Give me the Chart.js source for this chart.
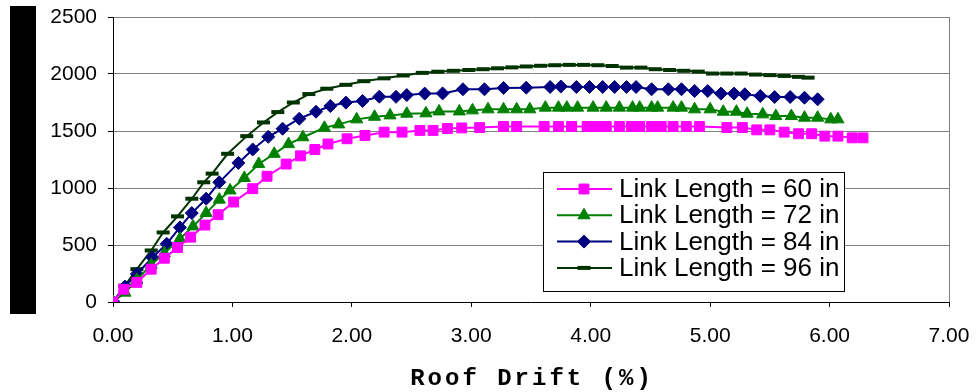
<!DOCTYPE html>
<html>
<head>
<meta charset="utf-8">
<script src="https://cdn.jsdelivr.net/npm/chart.js@4/dist/chart.umd.min.js"></script>
<style>
    html, body { margin:0; padding:0; background:#fff; }
    #wrap { position:relative; width:976px; height:392px; }
    #chart { position:absolute; left:0; top:0; }
    #bar { position:absolute; left:10px; top:6px; width:26px; height:308px; background:#000; }
</style>
</head>
<body>
<div id="wrap">
    <canvas id="chart" width="976" height="392"></canvas>
    <div id="bar"></div>
</div>
<script>
// Roof drift (%) vs load, one pair of arrays per link length
const drift60 = [0,0.09,0.20,0.32,0.43,0.54,0.65,0.77,0.88,1.01,1.17,1.29,1.45,1.57,1.69,1.80,1.96,2.11,2.27,2.42,2.57,2.68,2.80,2.92,3.07,3.27,3.38,3.61,3.73,3.84,3.97,4.05,4.13,4.24,4.34,4.41,4.51,4.59,4.69,4.80,4.91,5.14,5.27,5.39,5.50,5.62,5.74,5.85,5.96,6.07,6.19,6.28]
const load60 = [0,112,172,288,384,478,569,675,766,877,994,1103,1210,1282,1338,1386,1432,1461,1490,1490,1505,1505,1522,1527,1530,1540,1540,1540,1540,1540,1540,1540,1540,1540,1540,1540,1540,1540,1540,1540,1540,1530,1530,1510,1510,1490,1476,1476,1455,1455,1440,1440]

const drift72 = [0,0.10,0.20,0.32,0.43,0.56,0.67,0.78,0.89,0.98,1.10,1.22,1.35,1.47,1.59,1.77,1.89,2.04,2.19,2.32,2.46,2.62,2.73,2.90,3.01,3.14,3.27,3.38,3.49,3.62,3.73,3.80,3.89,4.02,4.13,4.24,4.35,4.41,4.51,4.56,4.69,4.76,4.87,5.00,5.11,5.22,5.31,5.44,5.55,5.68,5.79,5.90,6.01,6.07]
const load72 = [0,82,194,326,428,554,663,780,898,979,1088,1211,1300,1385,1445,1528,1558,1602,1625,1637,1652,1655,1672,1672,1681,1690,1690,1690,1690,1705,1705,1705,1705,1705,1705,1705,1705,1705,1705,1705,1705,1705,1690,1690,1669,1669,1652,1646,1631,1631,1617,1617,1602,1602]

const drift84 = [0,0.10,0.20,0.33,0.45,0.56,0.66,0.78,0.89,1.05,1.17,1.30,1.42,1.56,1.70,1.82,1.95,2.09,2.23,2.37,2.46,2.61,2.76,2.93,3.11,3.27,3.46,3.66,3.75,3.88,3.99,4.10,4.20,4.30,4.38,4.51,4.65,4.76,4.87,4.98,5.09,5.20,5.29,5.42,5.54,5.67,5.79,5.90]
const load84 = [0,135,246,390,510,654,780,906,1050,1220,1338,1449,1520,1608,1669,1719,1749,1763,1801,1800,1815,1828,1830,1866,1866,1878,1880,1886,1890,1886,1886,1886,1886,1886,1886,1866,1866,1866,1851,1851,1828,1828,1822,1807,1798,1798,1792,1778]

const drift96 = [0,0.10,0.20,0.32,0.42,0.54,0.66,0.76,0.83,0.96,1.12,1.26,1.38,1.51,1.64,1.79,1.95,2.10,2.27,2.43,2.59,2.72,2.85,2.98,3.10,3.22,3.34,3.46,3.58,3.70,3.82,3.94,4.06,4.18,4.30,4.42,4.54,4.66,4.78,4.90,5.02,5.14,5.26,5.38,5.50,5.62,5.74,5.82]
const load96 = [0,143,288,452,610,751,906,1050,1126,1300,1455,1575,1666,1750,1824,1871,1905,1937,1962,1987,2010,2020,2028,2035,2042,2050,2058,2066,2072,2077,2080,2080,2077,2070,2056,2056,2042,2035,2028,2021,2004,2004,2004,1995,1990,1983,1975,1968]

const seriesLabels = ["Link Length = 60 in", "Link Length = 72 in", "Link Length = 84 in", "Link Length = 96 in"]
const xTitleText = "Roof Drift (%)"

function pts(xs, ys){
    return xs.map((x,i)=>({ x:x, y:ys[i] }))
}

function series(label, xs, ys, color, style, radius, pbw){
    return {
        label: label,
        data: pts(xs, ys),
        borderColor: color,
        backgroundColor: color,
        borderWidth: 2,
        pointStyle: style,
        pointRadius: radius,
        pointBorderWidth: pbw,
        pointBackgroundColor: color,
        pointBorderColor: color,
        tension: 0
    }
}

const sansFont = '"Liberation Sans", Arial, sans-serif'

// boxed legend sitting inside the plot, lower right
const boxLegend = {
    id: 'boxLegend',
    afterDraw(chart){
        const ctx = chart.ctx
        const left = 543, top = 172, w = 301, h = 119
        ctx.save()
        ctx.fillStyle = '#fff'
        ctx.fillRect(left, top, w, h)
        ctx.strokeStyle = '#000'
        ctx.lineWidth = 1
        ctx.strokeRect(left + 0.5, top + 0.5, w, h)
        ctx.font = '26px ' + sansFont
        ctx.textBaseline = 'middle'
        ctx.textAlign = 'left'
        chart.data.datasets.forEach((ds, i) => {
            const y = 189 + i * 26.3
            ctx.strokeStyle = ds.borderColor
            ctx.lineWidth = 2
            ctx.beginPath()
            ctx.moveTo(557, y)
            ctx.lineTo(612, y)
            ctx.stroke()
            ctx.fillStyle = ds.pointBackgroundColor
            ctx.strokeStyle = ds.pointBorderColor
            ctx.lineWidth = ds.pointBorderWidth
            Chart.helpers.drawPoint(ctx, { pointStyle: ds.pointStyle, radius: ds.pointRadius, borderWidth: ds.pointBorderWidth, rotation: 0 }, 584, y)
            ctx.fillStyle = '#000'
            ctx.fillText(ds.label, 619, y + 1)
        })
        ctx.restore()
    }
}

// spaced-out monospace axis title
const xTitle = {
    id: 'xTitle',
    afterDraw(chart){
        const ctx = chart.ctx
        const a = chart.chartArea
        ctx.save()
        ctx.font = 'bold 24px "Liberation Mono", "Courier New", monospace'
        ctx.letterSpacing = '3px'
        ctx.fillStyle = '#000'
        ctx.textAlign = 'center'
        ctx.textBaseline = 'alphabetic'
        ctx.fillText(xTitleText, (a.left + a.right) / 2 + 1, 385)
        ctx.restore()
    }
}

new Chart(document.getElementById("chart"), {
    type: 'line',
    data: {
        datasets: [
            series(seriesLabels[0], drift60, load60, '#ff00ff', 'rect', 7, 1),
            series(seriesLabels[1], drift72, load72, '#008000', 'triangle', 7, 1),
            series(seriesLabels[2], drift84, load84, '#000080', 'rectRot', 6.5, 1),
            series(seriesLabels[3], drift96, load96, '#003300', 'line', 6.5, 4)
        ]
    },
    options: {
        responsive: false,
        animation: false,
        devicePixelRatio: 1,
        layout: { padding: { top: 17, right: 27, left: 0, bottom: 0 } },
        plugins: { legend: { display: false }, tooltip: { enabled: false } },
        scales: {
            x: {
                type: 'linear', min: 0, max: 7,
                ticks: { stepSize: 1, callback: v => v.toFixed(2), color: '#000', font: { family: sansFont, size: 21 }, padding: 17, maxRotation: 0 },
                grid: { color: c => (c.tick && c.tick.value === 7) ? '#808080' : 'transparent', tickColor: '#000', tickLength: 5 },
                border: { color: '#000', width: 1 },
                afterFit: s => { s.height = 90; s.paddingLeft = 0; s.paddingRight = 0 }
            },
            y: {
                min: 0, max: 2500,
                ticks: { stepSize: 500, callback: v => String(v), color: '#000', font: { family: sansFont, size: 21 }, padding: 11 },
                grid: { color: c => (c.tick && c.tick.value === 0) ? 'transparent' : '#808080', tickColor: '#000', tickLength: 5 },
                border: { color: '#000', width: 1 },
                afterFit: s => { s.width = 113; s.paddingTop = 0; s.paddingBottom = 0 }
            }
        }
    },
    plugins: [boxLegend, xTitle]
})
</script>
</body>
</html>
